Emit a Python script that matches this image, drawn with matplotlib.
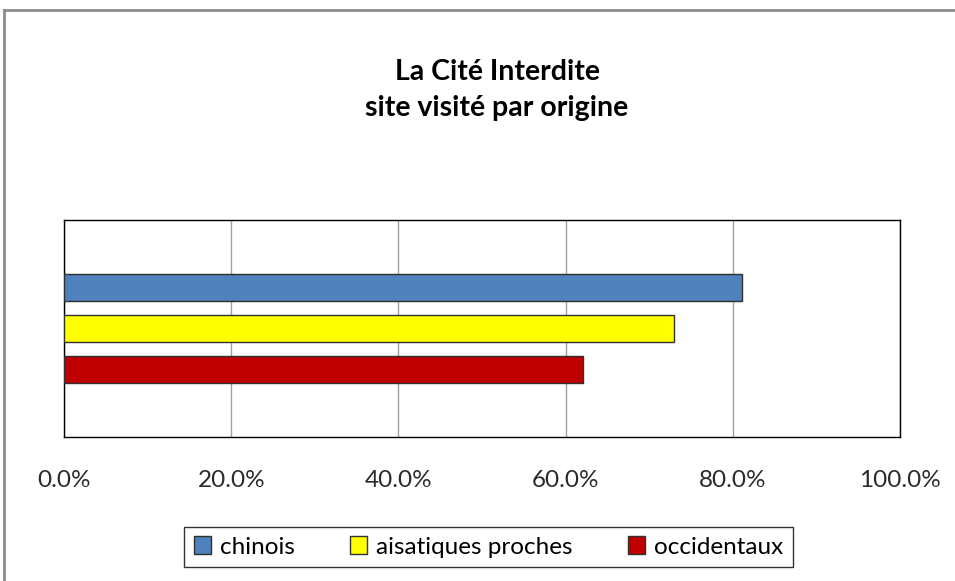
import matplotlib
matplotlib.use("Agg")
import matplotlib.pyplot as plt
from matplotlib.patches import Patch
from matplotlib.lines import Line2D
from matplotlib.ticker import FuncFormatter

plt.rcParams['font.family'] = ['Lato', 'DejaVu Sans']

categories = ["chinois", "aisatiques proches", "occidentaux"]
values = [81.1, 73.0, 62.1]
colors = ["#4F81BD", "#FFFF00", "#C00000"]
xticks = [0, 20, 40, 60, 80, 100]
title = "La Cité Interdite\nsite visité par origine"

fig = plt.figure(figsize=(9.55, 5.81), dpi=100)
ax = fig.add_axes([64/955, 1-437/581, (900-64)/955, (437-220)/581])

ypos = [1, 0, -1]
for y, v, c in zip(ypos, values, colors):
    ax.barh(y, v, height=0.66, color=c, edgecolor="#303030", linewidth=1.0, zorder=3)

ax.set_xlim(0, 100)
ax.set_ylim(-2.646, 2.646)
ax.set_xticks(xticks)
ax.xaxis.set_major_formatter(FuncFormatter(lambda v, p: f"{v:.1f}%"))
ax.tick_params(axis='x', length=0, labelsize=17.5, pad=24, colors="#2a2a2a")
ax.set_yticks([])
ax.grid(axis='x', color="#A0A0A0", linewidth=1.0, zorder=0)
for s in ax.spines.values():
    s.set_color("black")
    s.set_linewidth(1.0)

fig.text(497/955, 1-90/581, title, ha='center', va='center', fontsize=20.5,
         fontweight='bold', linespacing=1.45)

# outer chart frame
fig.add_artist(Line2D([4/955, 4/955], [0, 1-10/581], color="#8C8C8C", linewidth=2, transform=fig.transFigure))
fig.add_artist(Line2D([4/955, 1], [1-10/581, 1-10/581], color="#8C8C8C", linewidth=2, transform=fig.transFigure))

handles = [Patch(facecolor=c, edgecolor="#303030", linewidth=1.0) for c in colors]
leg = fig.legend(handles, categories, loc='center', bbox_to_anchor=(488.5/955, 1-547/581),
                 ncol=3, fontsize=17.5, frameon=True, fancybox=False, edgecolor="black",
                 handlelength=0.7, handleheight=0.7, handletextpad=0.35,
                 columnspacing=2.3, borderpad=0.4, borderaxespad=0)
leg.get_frame().set_linewidth(1.0)

fig.savefig("out.png", dpi=100)
